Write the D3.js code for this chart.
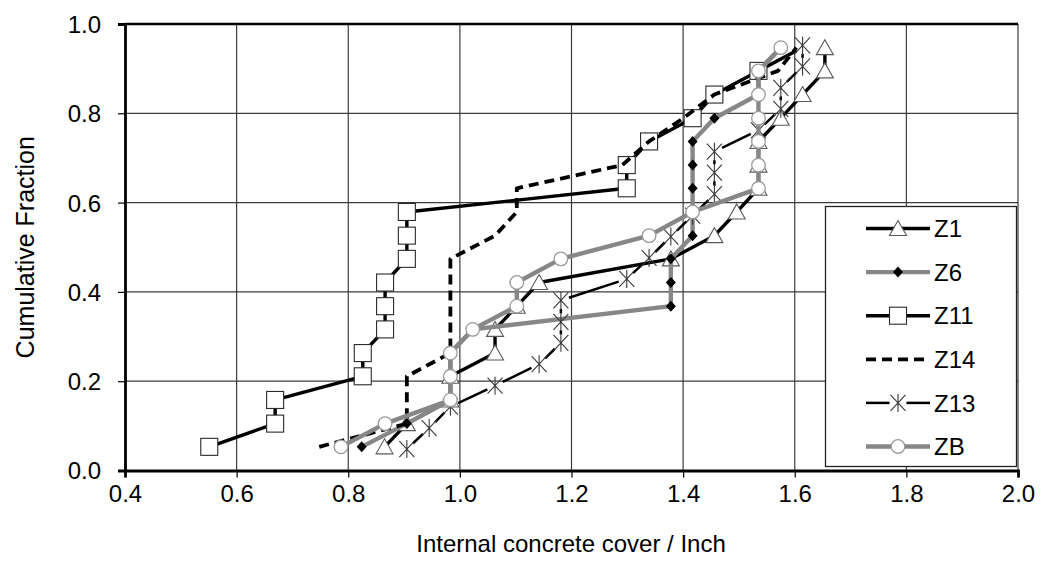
<!DOCTYPE html>
<html><head><meta charset="utf-8">
<script src="https://cdn.jsdelivr.net/npm/d3@7"></script>
<style>body{margin:0;background:#fff}text{font-family:"Liberation Sans",Arial,sans-serif;fill:#000}</style>
</head><body><svg id="c" width="1042" height="575"></svg>
<script>
// ---- data ----
const xTicks = [0.4,0.6,0.8,1.0,1.2,1.4,1.6,1.8,2.0];
const yTicks = [0.0,0.2,0.4,0.6,0.8,1.0];
const seriesNames = ["Z1","Z6","Z11","Z14","Z13","ZB"];

const z1X  = [0.865,0.905,0.983,0.983,1.063,1.063,1.102,1.142,1.378,1.456,1.496,1.535,1.535,1.535,1.575,1.614,1.654,1.654];
const z1Y  = [0.053,0.105,0.158,0.211,0.263,0.316,0.368,0.421,0.474,0.526,0.579,0.632,0.684,0.737,0.789,0.842,0.895,0.947];
const z6X  = [0.824,0.905,0.983,0.983,0.983,1.023,1.378,1.378,1.378,1.417,1.417,1.417,1.417,1.417,1.456,1.535,1.535,1.575];
const z6Y  = [0.053,0.105,0.158,0.211,0.263,0.316,0.368,0.421,0.474,0.526,0.579,0.632,0.684,0.737,0.789,0.842,0.895,0.947];
const z11X = [0.551,0.669,0.669,0.826,0.826,0.866,0.866,0.866,0.905,0.905,0.905,1.299,1.299,1.339,1.417,1.456,1.535,1.603];
const z11Y = [0.053,0.105,0.158,0.211,0.263,0.316,0.368,0.421,0.474,0.526,0.579,0.632,0.684,0.737,0.789,0.842,0.895,0.940];
const z14X = [0.748,0.905,0.905,0.905,0.983,0.983,0.983,0.983,0.983,1.063,1.102,1.102,1.291,1.339,1.400,1.456,1.570,1.603];
const z14Y = [0.053,0.105,0.158,0.211,0.263,0.316,0.368,0.421,0.474,0.526,0.579,0.632,0.684,0.737,0.789,0.842,0.895,0.947];
const z13X = [0.905,0.945,0.983,1.063,1.142,1.181,1.181,1.181,1.299,1.339,1.378,1.417,1.456,1.456,1.456,1.535,1.575,1.575,1.614,1.614];
const z13Y = [0.048,0.095,0.143,0.190,0.238,0.286,0.333,0.381,0.429,0.476,0.524,0.571,0.619,0.667,0.714,0.762,0.810,0.857,0.905,0.952];
const zbX  = [0.787,0.866,0.983,0.983,0.983,1.023,1.102,1.102,1.181,1.339,1.417,1.535,1.535,1.535,1.535,1.535,1.535,1.575];
const zbY  = [0.053,0.105,0.158,0.211,0.263,0.316,0.368,0.421,0.474,0.526,0.579,0.632,0.684,0.737,0.789,0.842,0.895,0.947];

// ---- layout ----
const svg = d3.select("#c");
const L=125, R=1018, T=24, B=470.5;
const FS = "24px";
const x = d3.scaleLinear().domain([0.4,2.0]).range([L,R]);
const y = d3.scaleLinear().domain([0,1]).range([B,T]);
const GRAY = "#878787";

// grid
const g = svg.append("g");
g.selectAll(".hg").data(yTicks.filter(v=>v>0)).join("line")
  .attr("x1",L).attr("x2",R).attr("y1",d=>y(d)).attr("y2",d=>y(d))
  .attr("stroke","#3c3c3c").attr("stroke-width",1.2);
g.selectAll(".vg").data(xTicks.filter(v=>v>0.4)).join("line")
  .attr("y1",T).attr("y2",B).attr("x1",d=>x(d)).attr("x2",d=>x(d))
  .attr("stroke","#3c3c3c").attr("stroke-width",1.2);
svg.append("line").attr("x1",L).attr("x2",R).attr("y1",T).attr("y2",T).attr("stroke","#000").attr("stroke-width",2.6);

// axes
const xAxis = svg.append("g").attr("transform",`translate(0,${B})`)
  .call(d3.axisBottom(x).tickValues(xTicks).tickFormat(d3.format(".1f")).tickSize(7).tickPadding(7));
const yAxis = svg.append("g").attr("transform",`translate(${L},0)`)
  .call(d3.axisLeft(y).tickValues(yTicks).tickFormat(d3.format(".1f")).tickSize(7).tickPadding(17));
[xAxis,yAxis].forEach(a=>{
  a.select(".domain").attr("stroke","#000").attr("stroke-width",2.8);
  a.selectAll(".tick line").attr("stroke","#000").attr("stroke-width",1.2);
  a.selectAll("text").style("font-size",FS).attr("fill","#000");
});
yAxis.selectAll("text").attr("dy","0.35em");

svg.append("text").attr("x",571).attr("y",552).attr("text-anchor","middle")
  .style("font-size",FS).text("Internal concrete cover / Inch");
svg.append("text").attr("transform",`translate(34,${(T+B)/2}) rotate(-90)`).attr("text-anchor","middle")
  .style("font-size","25px").text("Cumulative Fraction");

// ---- marker painters ----
function triangle(sel){ sel.append("path").attr("d","M0,-8L8.5,7L-8.5,7Z").attr("fill","#fff").attr("stroke","#5a5a5a").attr("stroke-width",1.1); }
function diamond(sel){ sel.append("path").attr("d","M0,-5.5L5,0L0,5.5L-5,0Z").attr("fill","#000"); }
function square(sel){ sel.append("rect").attr("x",-8.5).attr("y",-8.5).attr("width",17).attr("height",17).attr("fill","#fff").attr("stroke","#2a2a2a").attr("stroke-width",1.1); }
function circle(sel){ sel.append("circle").attr("r",6.8).attr("fill","#fff").attr("stroke","#9a9a9a").attr("stroke-width",1.3); }
function asterisk(sel){ sel.append("path").attr("d","M-7.5,-8L7.5,8M-7.5,8L7.5,-8M0,-9L0,9").attr("fill","none").attr("stroke","#3a3a3a").attr("stroke-width",1.1); }

const series = [
  {name:"Z1", xs:z1X, ys:z1Y, color:"#000", w:3.4, dash:null, marker:triangle},
  {name:"Z6", xs:z6X, ys:z6Y, color:GRAY, w:4.4, dash:null, marker:diamond},
  {name:"Z11",xs:z11X,ys:z11Y,color:"#000", w:3.4, dash:null, marker:square, markerCount:17},
  {name:"Z14",xs:z14X,ys:z14Y,color:"#000", w:3.8, dash:"10,6", marker:null},
  {name:"Z13",xs:z13X,ys:z13Y,color:"#000", w:2.5, dash:null, marker:asterisk, gap:8.5},
  {name:"ZB", xs:zbX, ys:zbY, color:GRAY, w:4.4, dash:null, marker:circle}
];

const line = d3.line().x(d=>x(d[0])).y(d=>y(d[1]));
const plot = svg.append("g");
series.forEach(s=>{
  const pts = s.xs.map((v,i)=>[v,s.ys[i]]);
  if(s.gap){
    for(let i=0;i<pts.length-1;i++){
      const x1=x(pts[i][0]),y1=y(pts[i][1]),x2=x(pts[i+1][0]),y2=y(pts[i+1][1]);
      const len=Math.hypot(x2-x1,y2-y1); if(len<=2*s.gap) continue;
      const ux=(x2-x1)/len, uy=(y2-y1)/len;
      plot.append("line").attr("x1",x1+ux*s.gap).attr("y1",y1+uy*s.gap)
        .attr("x2",x2-ux*s.gap).attr("y2",y2-uy*s.gap)
        .attr("stroke",s.color).attr("stroke-width",s.w);
    }
  } else {
    plot.append("path").datum(pts).attr("d",line).attr("fill","none")
      .attr("stroke",s.color).attr("stroke-width",s.w).attr("stroke-linejoin","round")
      .attr("stroke-dasharray",s.dash);
  }
  if(s.marker){
    const mp = s.markerCount ? pts.slice(0,s.markerCount) : pts;
    mp.forEach(p=>{ const m=plot.append("g").attr("transform",`translate(${x(p[0])},${y(p[1])})`); s.marker(m); });
  }
});

// ---- legend ----
const lg = svg.append("g");
lg.append("rect").attr("x",825.5).attr("y",206.5).attr("width",191).attr("height",260)
  .attr("fill","#fff").attr("stroke","#222").attr("stroke-width",1.3);
series.forEach((s,i)=>{
  const cy = 228.5 + i*43.6;
  const x0=866, x1=930, cx=(x0+x1)/2;
  if(s.gap){
    lg.append("line").attr("x1",x0).attr("x2",cx-s.gap).attr("y1",cy).attr("y2",cy).attr("stroke",s.color).attr("stroke-width",s.w);
    lg.append("line").attr("x1",cx+s.gap).attr("x2",x1).attr("y1",cy).attr("y2",cy).attr("stroke",s.color).attr("stroke-width",s.w);
  } else {
    lg.append("line").attr("x1",x0).attr("x2",x1).attr("y1",cy).attr("y2",cy)
      .attr("stroke",s.color).attr("stroke-width",s.w).attr("stroke-dasharray",s.dash);
  }
  if(s.marker){ const m=lg.append("g").attr("transform",`translate(${cx},${cy})`); s.marker(m); }
  lg.append("text").attr("x",934).attr("y",cy).attr("dy","0.36em").style("font-size",FS).text(s.name);
});
</script></body></html>
